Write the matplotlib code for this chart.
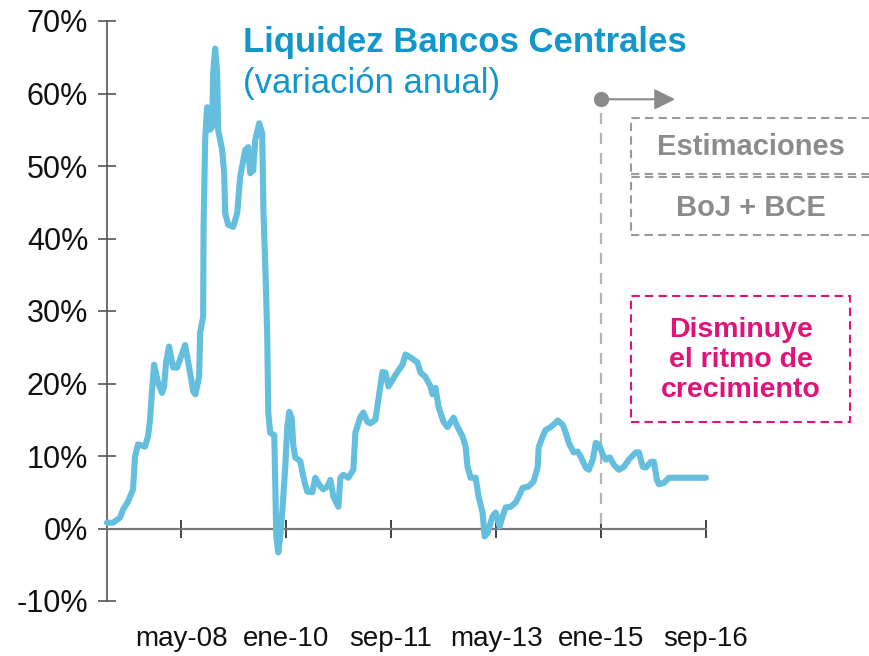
import matplotlib
matplotlib.use("Agg")
import matplotlib.pyplot as plt
from matplotlib.patches import Rectangle, FancyArrowPatch
import numpy as np

plt.rcParams['font.family'] = ['Liberation Sans', 'DejaVu Sans']

# time in decimal years, value in %
t_years = [2007.156, 2007.252, 2007.363, 2007.411, 2007.490, 2007.570, 2007.601, 2007.649,
           2007.760, 2007.808, 2007.840, 2007.872, 2007.904, 2007.967, 2008.031, 2008.063,
           2008.094, 2008.142, 2008.206, 2008.269, 2008.397, 2008.476, 2008.524, 2008.560,
           2008.620, 2008.635, 2008.683, 2008.690, 2008.715, 2008.746, 2008.794, 2008.826,
           2008.842, 2008.874, 2008.906, 2008.921, 2008.985, 2009.017, 2009.033, 2009.080,
           2009.160, 2009.224, 2009.271, 2009.351, 2009.399, 2009.430, 2009.478, 2009.510,
           2009.573, 2009.621, 2009.640, 2009.670, 2009.700, 2009.717, 2009.748, 2009.812,
           2009.828, 2009.844, 2009.876, 2009.907, 2009.939, 2009.987, 2010.019, 2010.051,
           2010.090, 2010.114, 2010.146, 2010.226, 2010.257, 2010.305, 2010.337, 2010.416,
           2010.464, 2010.544, 2010.591, 2010.655, 2010.703, 2010.750, 2010.830, 2010.862,
           2010.909, 2010.989, 2011.068, 2011.100, 2011.180, 2011.227, 2011.291, 2011.339,
           2011.418, 2011.466, 2011.530, 2011.577, 2011.625, 2011.689, 2011.768, 2011.848,
           2011.895, 2011.975, 2012.086, 2012.134, 2012.213, 2012.293, 2012.325, 2012.372,
           2012.420, 2012.500, 2012.563, 2012.659, 2012.722, 2012.802, 2012.850, 2012.881,
           2012.929, 2013.009, 2013.056, 2013.120, 2013.152, 2013.199, 2013.279, 2013.327,
           2013.358, 2013.390, 2013.438, 2013.486, 2013.565, 2013.645, 2013.692, 2013.756,
           2013.851, 2013.931, 2013.995, 2014.010, 2014.074, 2014.122, 2014.201, 2014.281,
           2014.313, 2014.392, 2014.440, 2014.488, 2014.567, 2014.631, 2014.678, 2014.758,
           2014.806, 2014.869, 2014.917, 2014.965, 2015.028, 2015.076, 2015.140, 2015.203,
           2015.283, 2015.362, 2015.442, 2015.553, 2015.601, 2015.664, 2015.712, 2015.792,
           2015.839, 2015.887, 2015.919, 2015.998, 2016.078, 2016.666]
liquidez = [0.8, 0.8, 1.5, 2.6, 3.7, 5.4, 9.9, 11.6,
            11.3, 12.7, 15.0, 19.1, 22.6, 20.1, 18.7, 19.6,
            22.9, 25.1, 22.2, 22.2, 25.3, 21.5, 18.9, 18.5,
            21.0, 27.0, 29.2, 41.6, 53.6, 58.1, 55.0, 55.4,
            62.8, 66.2, 62.8, 55.0, 52.2, 49.0, 43.5, 41.9,
            41.6, 43.5, 48.5, 52.2, 52.6, 49.0, 49.4, 53.6,
            55.9, 54.5, 44.0, 36.1, 27.0, 16.0, 13.2, 12.9,
            6.3, -1.1, -3.3, -1.1, 2.2, 8.5, 14.0, 16.1,
            15.2, 11.5, 9.8, 9.3, 7.8, 6.0, 5.1, 5.0,
            7.0, 5.8, 5.4, 5.8, 6.7, 4.4, 3.0, 7.0,
            7.4, 7.0, 8.1, 13.2, 15.4, 16.0, 14.7, 14.5,
            15.0, 17.8, 21.6, 21.5, 19.6, 20.5, 21.6, 22.6,
            24.0, 23.6, 22.9, 21.5, 20.9, 19.6, 18.5, 19.4,
            16.8, 14.7, 14.0, 15.3, 14.0, 12.7, 11.3, 8.5,
            7.0, 7.0, 4.4, 2.2, -1.1, -0.6, 1.7, 2.2,
            1.2, 0.3, 1.7, 2.9, 3.0, 3.6, 4.4, 5.6,
            5.8, 6.5, 8.5, 11.2, 12.7, 13.6, 14.0, 14.6,
            14.9, 14.3, 13.2, 11.8, 10.5, 10.6, 9.9, 8.4,
            8.1, 9.5, 11.8, 11.6, 10.2, 9.5, 9.8, 8.8,
            8.1, 8.5, 9.5, 10.5, 10.5, 8.5, 8.4, 9.2,
            9.2, 6.7, 6.1, 6.3, 7.0, 7.0]

tick_pos = [2008 + 4/12, 2010.0, 2011 + 8/12, 2013 + 4/12, 2015.0, 2016 + 8/12]
tick_labels = ['may-08', 'ene-10', 'sep-11', 'may-13', 'ene-15', 'sep-16']
y_ticks = [-10, 0, 10, 20, 30, 40, 50, 60, 70]
y_labels = ['-10%', '0%', '10%', '20%', '30%', '40%', '50%', '60%', '70%']

W, H = 870, 656
fig = plt.figure(figsize=(W/100, H/100), dpi=100)

def fx(x): return x / W
def fy(y): return 1 - y / H

ax = fig.add_axes([fx(107), fy(601), (706 - 107) / W, (601 - 21) / H])
line_col = '#64BEDE'
ax.plot(t_years, liquidez, color=line_col, lw=4.4, solid_joinstyle='round',
        solid_capstyle='round', zorder=3, clip_on=False)

ax.set_xlim(2007 + 1.88/12, 2016 + 8/12)
ax.set_ylim(-10, 70)
ax.set_yticks(y_ticks)
ax.set_yticklabels(y_labels)
ax.set_xticks(tick_pos)
ax.set_xticklabels(tick_labels)

for s in ['top', 'right']:
    ax.spines[s].set_visible(False)
axcol = '#555555'
ax.spines['left'].set_color(axcol)
ax.spines['left'].set_linewidth(1.2)
ax.spines['bottom'].set_position(('data', 0))
ax.spines['bottom'].set_color('#777777')
ax.spines['bottom'].set_linewidth(1.6)
ax.tick_params(axis='y', direction='inout', length=13, width=1.2, color=axcol,
               labelsize=22, pad=7)
ax.tick_params(axis='x', direction='inout', length=13, width=1.2, color='#222222',
               labelsize=20, pad=64)
for lab in ax.get_xticklabels() + ax.get_yticklabels():
    lab.set_color('#111111')

# vertical dashed line at ene-15 with arrow
gray = '#9A9A9A'
ax.plot([2015.0, 2015.0], [0.6, 58.5], color='#B5B5B5', lw=1.6, ls=(0, (5, 4)), zorder=2, clip_on=False)
ax.plot([2015.0], [59.2], 'o', color='#8A8A8A', ms=10, zorder=4, clip_on=False)
arr = FancyArrowPatch((2015.0, 59.2), (2016.22, 59.2), arrowstyle='-|>,head_length=9,head_width=4.5',
                      mutation_scale=1.4, color='#8A8A8A', lw=1.5, zorder=4, clip_on=False)
ax.add_patch(arr)

# title
title_col = '#1396CB'
fig.text(fx(243), fy(52), 'Liquidez Bancos Centrales', fontsize=25, fontweight='bold',
         color=title_col, va='baseline', ha='left')
fig.text(fx(243), fy(93), '(variación anual)', fontsize=25, color=title_col,
         va='baseline', ha='left')

# gray boxes
dash = (0, (4, 2.5))
for (y0, y1) in [(118, 174), (177, 235)]:
    fig.patches.append(Rectangle((fx(631), fy(y1)), (900 - 631) / W, (y1 - y0) / H,
                                 transform=fig.transFigure, fill=False, ec=gray, lw=1.5, ls=dash))
fig.text(fx(751), fy(147), 'Estimaciones', fontsize=21, fontweight='bold', color='#8C8C8C',
         ha='center', va='center')
fig.text(fx(751), fy(208), 'BoJ + BCE', fontsize=21, fontweight='bold', color='#8C8C8C',
         ha='center', va='center')

# pink box
pink = '#E0137B'
fig.patches.append(Rectangle((fx(631), fy(422)), (850 - 631) / W, (422 - 296) / H,
                             transform=fig.transFigure, fill=False, ec=pink, lw=1.5, ls=dash))
fig.text(fx(741), fy(360), 'Disminuye\nel ritmo de\ncrecimiento', fontsize=20.5,
         fontweight='bold', color=pink, ha='center', va='center', linespacing=1.2)

fig.savefig('out.png', dpi=100)
